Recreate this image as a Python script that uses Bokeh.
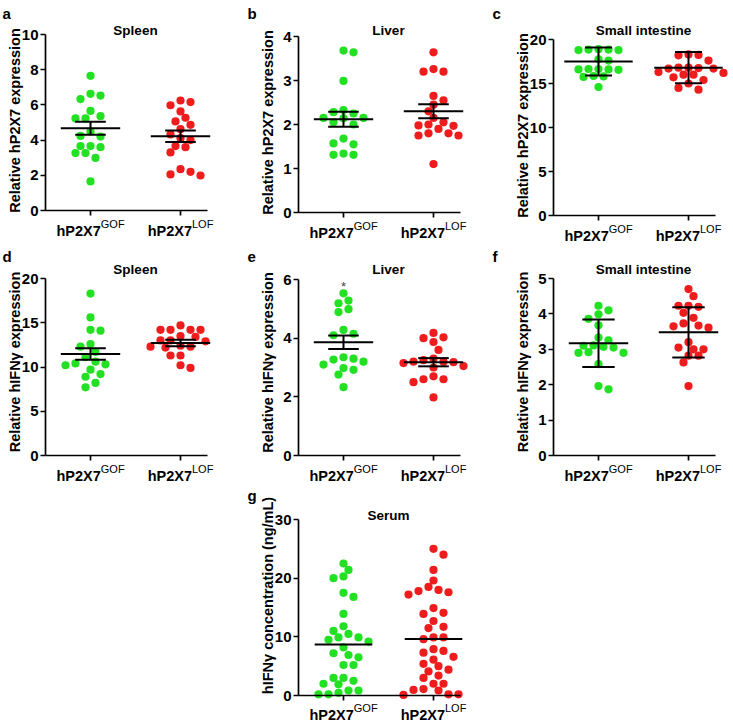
import numpy as np
from bokeh.plotting import figure
from bokeh.models import Range1d, FixedTicker, Label, Spacer
from bokeh.layouts import row, column
from bokeh.embed import file_html
from bokeh.resources import INLINE

FONT = "Liberation Sans"
GREEN = "#22e022"
RED = "#ee1c1c"

# categories
group_x = [1, 2]
group_main = ["hP2X7", "hP2X7"]
group_sup = ["GOF", "LOF"]

# ---- data ----
a_gof = [7.65, 6.63, 6.53, 6.33, 5.66, 5.36, 5.23, 5.23, 4.49, 4.24, 4.2, 3.66, 3.66, 3.6, 3.26, 3.26, 2.99, 1.65]
a_lof = [6.25, 6.16, 5.98, 5.63, 5.27, 5.06, 4.87, 4.62, 4.32, 4.11, 4.0, 3.66, 3.6, 3.3, 2.35, 2.2, 2.05, 1.99]
a_mean = [4.67, 4.22]
a_err = [0.37, 0.33]

b_gof = [3.68, 3.64, 2.99, 2.33, 2.28, 2.25, 2.15, 2.15, 2.14, 2.05, 2.0, 1.68, 1.57, 1.55, 1.34, 1.31, 1.31]
b_lof = [3.64, 3.26, 3.2, 3.2, 2.65, 2.55, 2.45, 2.3, 2.15, 2.05, 2.0, 1.98, 1.97, 1.9, 1.8, 1.8, 1.75, 1.75, 1.1]
b_mean = [2.12, 2.3]
b_err = [0.17, 0.16]

c_gof = [18.9, 18.85, 18.85, 18.8, 18.8, 17.75, 17.6, 16.65, 16.6, 16.6, 16.55, 16.65, 15.85, 15.8, 15.75, 14.6]
c_lof = [18.3, 18.25, 18.2, 17.6, 16.8, 16.8, 16.75, 16.7, 16.7, 16.3, 16.2, 16.0, 16.0, 15.7, 15.4, 15.0, 14.5, 14.3]
c_mean = [17.5, 16.8]
c_err = [1.6, 1.78]

d_gof = [18.3, 15.6, 14.2, 14.1, 12.6, 12.3, 11.7, 11.1, 10.6, 10.4, 10.3, 10.2, 9.7, 9.2, 8.9, 8.2, 7.7]
d_lof = [14.7, 14.2, 14.2, 14.2, 14.2, 13.5, 13.4, 13.0, 13.0, 12.9, 12.4, 12.3, 12.3, 12.2, 11.3, 11.3, 10.2, 9.9]
d_mean = [11.47, 12.72]
d_err = [0.66, 0.37]

e_gof = [5.53, 5.28, 5.19, 4.99, 4.89, 4.28, 4.15, 4.1, 3.35, 3.3, 3.27, 3.2, 3.1, 2.98, 2.92, 2.76, 2.33]
e_lof = [4.18, 4.03, 4.0, 3.87, 3.6, 3.3, 3.25, 3.2, 3.2, 3.18, 3.15, 3.05, 3.0, 2.7, 2.6, 2.6, 2.5, 1.98]
e_mean = [3.86, 3.18]
e_err = [0.23, 0.14]

f_gof = [4.23, 4.1, 3.99, 3.86, 3.68, 3.33, 3.25, 3.11, 3.1, 3.07, 3.05, 2.92, 2.9, 2.9, 2.58, 1.96, 1.87]
f_lof = [4.7, 4.5, 4.23, 4.23, 4.2, 4.03, 3.89, 3.73, 3.67, 3.65, 3.61, 3.2, 3.05, 3.0, 3.0, 2.82, 2.82, 2.63, 1.96]
f_mean = [3.17, 3.48]
f_err = [0.67, 0.71]

g_gof = [22.5, 21.4, 20.3, 20.0, 17.5, 16.8, 13.9, 11.8, 11.0, 10.5, 9.9, 9.9, 9.5, 9.2, 8.2, 7.2, 6.9, 6.5,
         5.2, 5.2, 3.0, 3.0, 2.5, 2.0, 1.9, 0.85, 0.85, 0.45, 0.2, 0.2]
g_lof = [25.0, 24.0, 21.4, 19.6, 18.5, 18.0, 17.8, 17.6, 17.2, 14.9, 14.1, 13.9, 12.7, 11.7, 11.5, 9.9, 9.9, 9.6,
         7.9, 7.6, 7.3, 6.6, 6.1, 5.4, 5.0, 4.4, 4.1, 3.4, 3.0, 2.0, 2.0, 1.1, 0.95, 0.85, 0.2, 0.2, 0.1]
g_center = [8.68, 9.64]

# ---- layout geometry (pixels inside each canvas) ----
COL_W = [245, 245, 242]
COL_LEFT = [45, 53, 63]          # y axis position in each column canvas
ROW_H = [244, 240, 239]
TITLE_BASE = [30, 24.5, 31]      # title baseline in each row canvas
LETTER_BASE = [13, 12, 11]       # panel letter baseline in each row canvas
AXIS_W = 162
X0, X1 = 0.5, 2.3
PPX = AXIS_W / (X1 - X0)


def swarm(vals, ppy, d=8.0, h=5.0):
    vals = np.asarray(vals, float)
    order = np.argsort(-vals, kind="stable")
    placed = []
    offs = np.zeros(len(vals))
    flip = 1
    for i in order:
        y = vals[i] * ppy
        best = None
        for k in range(0, 80):
            signs = [0] if k == 0 else [flip, -flip]
            for s in signs:
                c = s * k * h
                if all((c - px) ** 2 + (y - py) ** 2 >= d * d - 1e-6 for px, py in placed):
                    best = c
                    break
            if best is not None:
                break
        if best != 0:
            flip = -flip
        placed.append((best, y))
        offs[i] = best / PPX
    return offs


def txt(p, x, y, text, size, bold=True, align="center", baseline="alphabetic", angle=0.0, color="black"):
    p.add_layout(Label(x=x, y=y, text=text, text_align=align, text_baseline=baseline, angle=angle,
                       text_font=FONT, text_font_size=size,
                       text_font_style="bold" if bold else "normal", text_color=color))


def panel(letter, title, ylabel, gof, lof, means, errs, ymax, ticks, col, rw, top, fh,
          star=False, ylabel_shift=2, label_drop=20, mean_half=0.33, cap_half=0.17):
    W = COL_W[col]
    H = ROW_H[rw]
    left = COL_LEFT[col]
    ppy = fh / ymax
    bottom = H - top - fh
    xs = X0 - left / PPX
    xe = xs + W / PPX
    ys = -bottom / ppy
    ye = ys + H / ppy
    p = figure(width=W, height=H, x_range=Range1d(xs, xe), y_range=Range1d(ys, ye),
               output_backend="svg", toolbar_location=None, min_border=0)
    p.min_border_left = 0
    p.min_border_right = 0
    p.min_border_top = 0
    p.min_border_bottom = 0
    p.outline_line_color = None
    p.grid.visible = False
    p.background_fill_color = "white"
    p.border_fill_color = "white"

    for gx, vals, colr in ((group_x[0], gof, GREEN), (group_x[1], lof, RED)):
        offs = swarm(vals, ppy)
        p.scatter(x=gx + offs, y=vals, size=8.2, fill_color=colr, line_color=None)

    for i, gx in enumerate(group_x):
        m = means[i]
        p.segment(x0=[gx - mean_half], x1=[gx + mean_half], y0=[m], y1=[m],
                  line_color="black", line_width=2)
        if errs is not None:
            e = errs[i]
            p.segment(x0=[gx], x1=[gx], y0=[m - e], y1=[m + e], line_color="black", line_width=2)
            p.segment(x0=[gx - cap_half, gx - cap_half], x1=[gx + cap_half, gx + cap_half],
                      y0=[m - e, m + e], y1=[m - e, m + e], line_color="black", line_width=2)

    # axes drawn at the data origin, limited to the plotted extent
    p.xaxis.fixed_location = 0
    p.xaxis.bounds = (X0, X1)
    p.yaxis.fixed_location = X0
    p.yaxis.bounds = (0, ymax)
    p.xaxis.ticker = FixedTicker(ticks=group_x)
    p.xaxis.major_label_overrides = {1: "", 2: ""}
    p.yaxis.ticker = FixedTicker(ticks=ticks)
    for ax in (p.xaxis[0], p.yaxis[0]):
        ax.axis_line_width = 1.7
        ax.axis_line_color = "black"
        ax.major_tick_line_width = 1.7
        ax.major_tick_line_color = "black"
        ax.major_tick_out = 5
        ax.major_tick_in = 0
        ax.minor_tick_line_color = None
    p.yaxis.major_label_text_font = FONT
    p.yaxis.major_label_text_font_size = "15px"
    p.yaxis.major_label_text_font_style = "bold"
    p.yaxis.major_label_text_color = "black"
    p.yaxis.major_label_standoff = 2

    # category labels with superscripts
    joins = [10.3, 11.5]
    for i, gx in enumerate(group_x):
        txt(p, gx + joins[i] / PPX, -label_drop / ppy, group_main[i], "14.5px", align="right")
        txt(p, gx + joins[i] / PPX, -(label_drop - 7) / ppy, group_sup[i], "11px", bold=False, align="left")

    def canvas_y(yc):
        # canvas pixel row (from the top) -> data value
        return (top + fh - yc) / ppy

    # y axis title
    ylx = -31 if col == 0 else -30.5
    txt(p, X0 + ylx / PPX, ymax / 2 + ylabel_shift / ppy, ylabel, "14.5px",
        baseline="middle", angle=np.pi / 2)
    # panel title
    txt(p, 1.5, canvas_y(TITLE_BASE[rw]), title, "13.5px")
    # panel letter
    txt(p, X0 - (left - 2) / PPX, canvas_y(LETTER_BASE[rw]), letter, "15px", align="left")
    if star:
        txt(p, group_x[0], ymax - 6.5 / ppy, "*", "13px", bold=False, color="#444444")
    return p


lab1 = "Relative hP2X7 expression"
lab2 = "Relative hIFN\u03b3 expression"
lab3 = "hIFN\u03b3 concentration (ng/mL)"

pa = panel("a", "Spleen", lab1, a_gof, a_lof, a_mean, a_err, 10, [0, 2, 4, 6, 8, 10], 0, 0, 34, 176)
pb = panel("b", "Liver", lab1, b_gof, b_lof, b_mean, b_err, 4, [0, 1, 2, 3, 4], 1, 0, 36, 176)
pc = panel("c", "Small intestine", lab1, c_gof, c_lof, c_mean, c_err, 20, [0, 5, 10, 15, 20], 2, 0, 39, 176,
           mean_half=0.38, cap_half=0.15)
pd = panel("d", "Spleen", lab2, d_gof, d_lof, d_mean, d_err, 20, [0, 5, 10, 15, 20], 0, 1, 34, 177,
           ylabel_shift=5)
pe = panel("e", "Liver", lab2, e_gof, e_lof, e_mean, e_err, 6, [0, 2, 4, 6], 1, 1, 35, 176, star=True,
           ylabel_shift=5)
pf = panel("f", "Small intestine", lab2, f_gof, f_lof, f_mean, f_err, 5, [0, 1, 2, 3, 4, 5], 2, 1, 34, 177,
           ylabel_shift=5, cap_half=0.18)
pg = panel("g", "Serum", lab3, g_gof, g_lof, g_center, None, 30, [0, 10, 20, 30], 1, 2, 35, 176,
           ylabel_shift=12, label_drop=19, mean_half=0.32)

layout = column(row(pa, pb, pc), row(pd, pe, pf), row(Spacer(width=COL_W[0], height=ROW_H[2]), pg))

open("out.html", "w").write(file_html(layout, INLINE))
